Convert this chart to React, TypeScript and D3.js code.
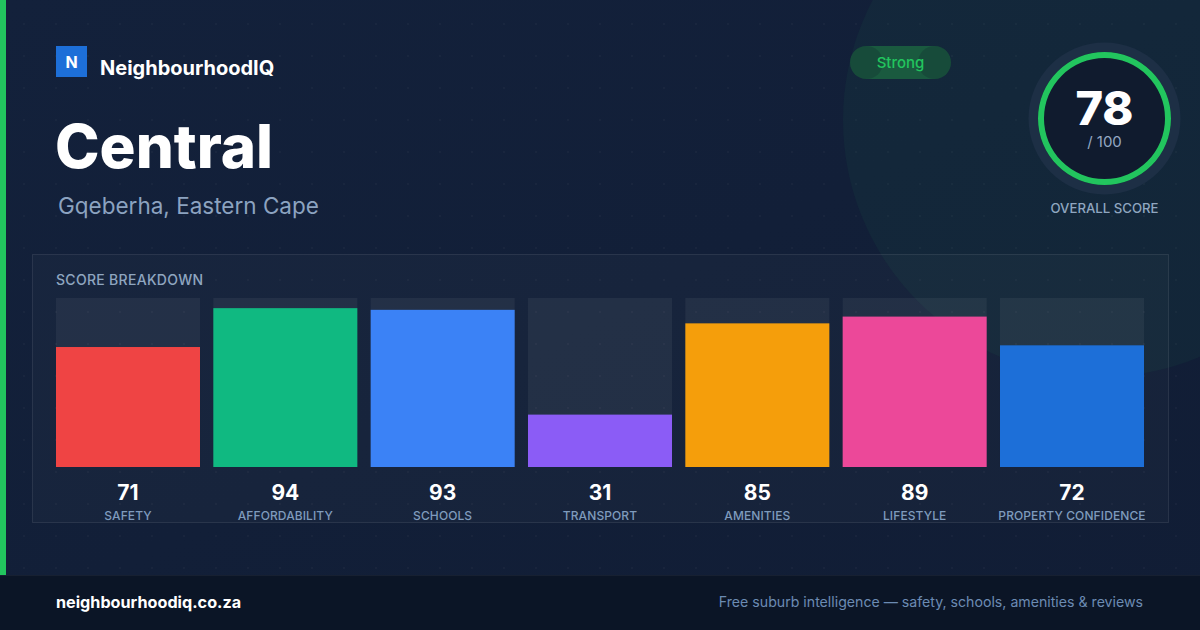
import React from "react";
import * as d3 from "d3";

const categories = ["SAFETY", "AFFORDABILITY", "SCHOOLS", "TRANSPORT", "AMENITIES", "LIFESTYLE", "PROPERTY CONFIDENCE"];
const scores = [71, 94, 93, 31, 85, 89, 72];
const barColors = ["#ef4444", "#10b981", "#3b82f6", "#8b5cf6", "#f59e0b", "#ec4899", "#1d6fd8"];
const overallScore = 78;
const overallMax = 100;
const rating = "Strong";
const suburb = "Central";
const region = "Gqeberha, Eastern Cape";
const brand = "NeighbourhoodIQ";
const site = "neighbourhoodiq.co.za";
const tagline = "Free suburb intelligence — safety, schools, amenities & reviews";

const W = 1200;
const H = 630;
const FONT = "Inter, 'Noto Sans', sans-serif";

export default function App() {
  const x = d3.scaleBand<string>().domain(categories).range([56, 1144]).paddingInner(13.33 / 157.33);
  const y = d3.scaleLinear().domain([0, 100]).range([467, 298]);
  const gaugeR = 63.5;
  const arc = d3.arc<any>()
    .innerRadius(gaugeR - 3)
    .outerRadius(gaugeR + 3)
    .startAngle(0)
    .endAngle(2 * Math.PI);

  return (
    <svg width={W} height={H} viewBox={`0 0 ${W} ${H}`} style={{ position: "absolute", left: 0, top: 0, display: "block" }}>
      <defs>
        <linearGradient id="bg" x1="0" y1="0" x2="1" y2="1">
          <stop offset="0%" stopColor="#13213b" />
          <stop offset="100%" stopColor="#111d35" />
        </linearGradient>
        <pattern id="dots" x="0" y="0" width="32" height="32" patternUnits="userSpaceOnUse">
          <circle cx="24" cy="24" r="1" fill="rgba(255,255,255,0.035)" />
        </pattern>
      </defs>
      <rect x={0} y={0} width={W} height={H} fill="url(#bg)" />
      <circle cx={1100} cy={120} r={257} fill="rgba(34,197,94,0.05)" />
      <rect x={0} y={0} width={W} height={575} fill="url(#dots)" />
      <rect x={0} y={0} width={6} height={575} fill="#22c55e" />

      {/* Brand */}
      <rect x={56} y={46} width={31} height={31} fill="#1d6fd8" />
      <text x={71.5} y={67.5} textAnchor="middle" fill="#fff" fontFamily={FONT} fontWeight={700} fontSize={16}>N</text>
      <text x={100} y={75} fill="#fff" fontFamily={FONT} fontWeight={700} fontSize={20}>{brand}</text>

      <text x={55} y={168} fill="#fff" fontFamily={FONT} fontWeight={800} fontSize={60}>{suburb}</text>
      <text x={58} y={214} fill="#8ca3c0" fontFamily={FONT} fontWeight={400} fontSize={22.5}>{region}</text>

      {/* Pill */}
      <rect x={850} y={46} width={101} height={33} rx={16.5} fill="#1a5a3f" />
      <circle cx={866.5} cy={62.5} r={16.5} fill="rgba(15,30,45,0.25)" />
      <circle cx={934.5} cy={62.5} r={16.5} fill="rgba(15,30,45,0.25)" />
      <text x={900.5} y={67.5} textAnchor="middle" fill="#22c55e" fontFamily={FONT} fontWeight={500} fontSize={15}>{rating}</text>

      {/* Gauge */}
      <g transform="translate(1104.5,118.5)">
        <circle r={76} fill="#1d2f45" />
        <circle r={gaugeR + 3} fill="#101b2e" />
        <path d={arc({}) || ""} fill="#22c55e" />
        <text y={125 - 118.5} textAnchor="middle" fill="#fff" fontFamily={FONT} fontWeight={800} fontSize={47}>{overallScore}</text>
        <text y={147 - 118.5} textAnchor="middle" fill="#94a8c2" fontFamily={FONT} fontWeight={400} fontSize={15}>/ {overallMax}</text>
      </g>
      <text x={1104.5} y={213} textAnchor="middle" fill="#8fa6c0" fontFamily={FONT} fontWeight={500} fontSize={13.2}>OVERALL SCORE</text>

      {/* Panel */}
      <rect x={32.5} y={254.5} width={1136} height={268} fill="rgba(255,255,255,0.025)" stroke="rgba(255,255,255,0.09)" strokeWidth={1} />
      <text x={56} y={285} fill="#8fa6c0" fontFamily={FONT} fontWeight={500} fontSize={14} letterSpacing={0.3}>SCORE BREAKDOWN</text>

      {categories.map((c, i) => {
        const bx = x(c) as number;
        const bw = x.bandwidth();
        return (
          <g key={c}>
            <rect x={bx} y={y(100)} width={bw} height={y(0) - y(100)} fill="rgba(255,255,255,0.055)" />
            <rect x={bx} y={y(scores[i])} width={bw} height={y(0) - y(scores[i])} fill={barColors[i]} />
            <text x={bx + bw / 2} y={499.5} textAnchor="middle" fill="#fff" fontFamily={FONT} fontWeight={700} fontSize={21}>{scores[i]}</text>
            <text x={bx + bw / 2} y={520} textAnchor="middle" fill="#7f9bbd" fontFamily={FONT} fontWeight={500} fontSize={12} letterSpacing={0.1}>{c}</text>
          </g>
        );
      })}

      {/* Footer */}
      <rect x={0} y={575} width={W} height={55} fill="#0b1526" />
      <line x1={0} x2={W} y1={575.5} y2={575.5} stroke="rgba(255,255,255,0.05)" />
      <text x={56} y={608} fill="#fff" fontFamily={FONT} fontWeight={700} fontSize={16.2}>{site}</text>
      <text x={1143} y={607} textAnchor="end" fill="#6b8bb3" fontFamily={FONT} fontWeight={400} fontSize={14.15}>{tagline}</text>
    </svg>
  );
}
